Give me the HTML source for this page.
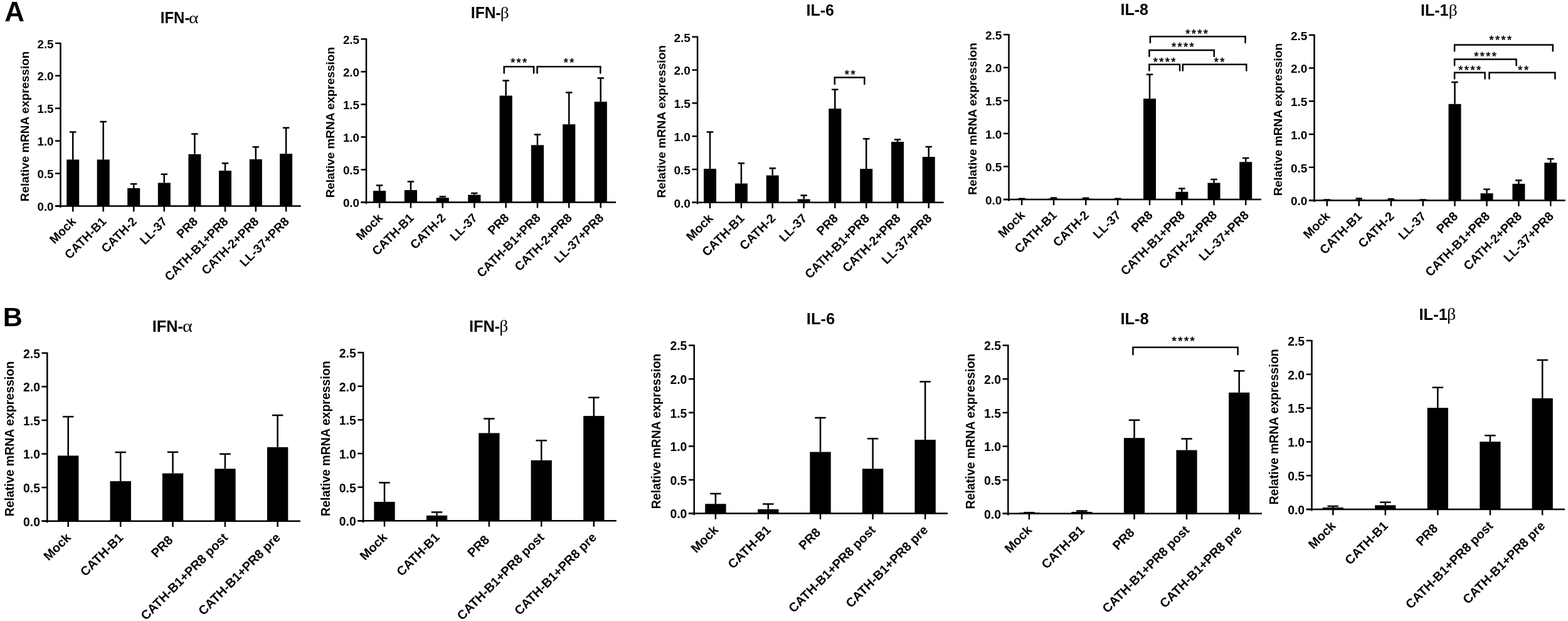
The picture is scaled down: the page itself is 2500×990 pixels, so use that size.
<!DOCTYPE html><html><head><meta charset="utf-8"><title>Figure</title><style>html,body{margin:0;padding:0;background:#fff;}svg{display:block;}</style></head><body>
<svg width="2500" height="990" viewBox="0 0 2500 990" font-family="&apos;Liberation Sans&apos;, Arial, Helvetica, sans-serif">
<rect width="2500" height="990" fill="#fff"/>
<text x="7.3" y="33.7" font-size="44" font-weight="bold">A</text>
<text x="4.7" y="519.6" font-size="43" font-weight="bold">B</text>
<g><g stroke="#000" stroke-width="2.5" fill="none" stroke-linecap="butt"><path d="M96.5 67.9V329.6"/><path d="M96.5 328.4V330" stroke-linecap="round"/><path d="M88 328.4H96.5"/><path d="M88 276.5H96.5"/><path d="M88 224.6H96.5"/><path d="M88 172.7H96.5"/><path d="M88 120.8H96.5"/><path d="M88 68.9H96.5"/><path d="M88 328.4H479.7"/><path d="M116.2 328.4V337.4"/><path d="M164.7 328.4V337.4"/><path d="M213.2 328.4V337.4"/><path d="M261.8 328.4V337.4"/><path d="M310.4 328.4V337.4"/><path d="M359 328.4V337.4"/><path d="M407.8 328.4V337.4"/><path d="M456.1 328.4V337.4"/></g><rect x="106.2" y="254.4" width="20" height="74" fill="#000"/><path d="M116.2 254.4V210.4M110.95 210.4H121.45" stroke="#000" stroke-width="2.5" fill="none"/><rect x="154.7" y="254.4" width="20" height="74" fill="#000"/><path d="M164.7 254.4V193.9M159.45 193.9H169.95" stroke="#000" stroke-width="2.5" fill="none"/><rect x="203.2" y="300" width="20" height="28.4" fill="#000"/><path d="M213.2 300V293.2M207.95 293.2H218.45" stroke="#000" stroke-width="2.5" fill="none"/><rect x="251.8" y="291.5" width="20" height="36.9" fill="#000"/><path d="M261.8 291.5V277.8M256.55 277.8H267.05" stroke="#000" stroke-width="2.5" fill="none"/><rect x="300.4" y="245.8" width="20" height="82.6" fill="#000"/><path d="M310.4 245.8V213.6M305.15 213.6H315.65" stroke="#000" stroke-width="2.5" fill="none"/><rect x="349" y="272.1" width="20" height="56.3" fill="#000"/><path d="M359 272.1V260.3M353.75 260.3H364.25" stroke="#000" stroke-width="2.5" fill="none"/><rect x="397.8" y="253.9" width="20" height="74.5" fill="#000"/><path d="M407.8 253.9V234.2M402.55 234.2H413.05" stroke="#000" stroke-width="2.5" fill="none"/><rect x="446.1" y="245.1" width="20" height="83.3" fill="#000"/><path d="M456.1 245.1V203.8M450.85 203.8H461.35" stroke="#000" stroke-width="2.5" fill="none"/><text x="85.5" y="336.05" font-size="18.7" font-weight="bold" text-anchor="end">0.0</text><text x="85.5" y="284.15" font-size="18.7" font-weight="bold" text-anchor="end">0.5</text><text x="85.5" y="232.25" font-size="18.7" font-weight="bold" text-anchor="end">1.0</text><text x="85.5" y="180.35" font-size="18.7" font-weight="bold" text-anchor="end">1.5</text><text x="85.5" y="128.45" font-size="18.7" font-weight="bold" text-anchor="end">2.0</text><text x="85.5" y="76.55" font-size="18.7" font-weight="bold" text-anchor="end">2.5</text><text transform="translate(45.9 201.45) rotate(-90)" font-size="18.89" font-weight="bold" text-anchor="middle">Relative mRNA expression</text><text transform="translate(122.2 354.4) rotate(-45)" font-size="19.54" font-weight="bold" text-anchor="end">Mock</text><text transform="translate(170.7 354.4) rotate(-45)" font-size="19.54" font-weight="bold" text-anchor="end">CATH-B1</text><text transform="translate(219.2 354.4) rotate(-45)" font-size="19.54" font-weight="bold" text-anchor="end">CATH-2</text><text transform="translate(267.8 354.4) rotate(-45)" font-size="19.54" font-weight="bold" text-anchor="end">LL-37</text><text transform="translate(316.4 354.4) rotate(-45)" font-size="19.54" font-weight="bold" text-anchor="end">PR8</text><text transform="translate(365 354.4) rotate(-45)" font-size="19.54" font-weight="bold" text-anchor="end">CATH-B1+PR8</text><text transform="translate(413.8 354.4) rotate(-45)" font-size="19.54" font-weight="bold" text-anchor="end">CATH-2+PR8</text><text transform="translate(462.1 354.4) rotate(-45)" font-size="19.54" font-weight="bold" text-anchor="end">LL-37+PR8</text><text transform="translate(255.8 37) scale(0.94 1)" font-size="25.5" font-weight="bold">IFN-</text><text transform="translate(301.04 37) scale(1.16 1)" font-size="25.5" font-family="&apos;Liberation Serif&apos;, &apos;Times New Roman&apos;, serif">α</text></g>
<g><g stroke="#000" stroke-width="2.5" fill="none" stroke-linecap="butt"><path d="M584 61.3V323.7"/><path d="M584 322.5V324.1" stroke-linecap="round"/><path d="M575.48 322.5H584"/><path d="M575.48 270.46H584"/><path d="M575.48 218.42H584"/><path d="M575.48 166.38H584"/><path d="M575.48 114.34H584"/><path d="M575.48 62.3H584"/><path d="M575.48 322.5H982.1"/><path d="M605.1 322.5V331.52"/><path d="M654.9 322.5V331.52"/><path d="M705.7 322.5V331.52"/><path d="M756.3 322.5V331.52"/><path d="M806.6 322.5V331.52"/><path d="M856.9 322.5V331.52"/><path d="M907.2 322.5V331.52"/><path d="M957.7 322.5V331.52"/></g><rect x="595" y="304.2" width="20.2" height="18.3" fill="#000"/><path d="M605.1 304.2V295.4M599.85 295.4H610.35" stroke="#000" stroke-width="2.5" fill="none"/><rect x="644.8" y="303" width="20.2" height="19.5" fill="#000"/><path d="M654.9 303V289.5M649.65 289.5H660.15" stroke="#000" stroke-width="2.5" fill="none"/><rect x="695.6" y="315.3" width="20.2" height="7.2" fill="#000"/><path d="M705.7 315.3V313.5M700.45 313.5H710.95" stroke="#000" stroke-width="2.5" fill="none"/><rect x="746.2" y="310.6" width="20.2" height="11.9" fill="#000"/><path d="M756.3 310.6V308M751.05 308H761.55" stroke="#000" stroke-width="2.5" fill="none"/><rect x="796.5" y="152.5" width="20.2" height="170" fill="#000"/><path d="M806.6 152.5V128.6M801.35 128.6H811.85" stroke="#000" stroke-width="2.5" fill="none"/><rect x="846.8" y="231.3" width="20.2" height="91.2" fill="#000"/><path d="M856.9 231.3V214.5M851.65 214.5H862.15" stroke="#000" stroke-width="2.5" fill="none"/><rect x="897.1" y="198.2" width="20.2" height="124.3" fill="#000"/><path d="M907.2 198.2V147.5M901.95 147.5H912.45" stroke="#000" stroke-width="2.5" fill="none"/><rect x="947.6" y="162.2" width="20.2" height="160.3" fill="#000"/><path d="M957.7 162.2V124.5M952.45 124.5H962.95" stroke="#000" stroke-width="2.5" fill="none"/><text x="572.97" y="330.17" font-size="18.75" font-weight="bold" text-anchor="end">0.0</text><text x="572.97" y="278.13" font-size="18.75" font-weight="bold" text-anchor="end">0.5</text><text x="572.97" y="226.09" font-size="18.75" font-weight="bold" text-anchor="end">1.0</text><text x="572.97" y="174.05" font-size="18.75" font-weight="bold" text-anchor="end">1.5</text><text x="572.97" y="122.01" font-size="18.75" font-weight="bold" text-anchor="end">2.0</text><text x="572.97" y="69.97" font-size="18.75" font-weight="bold" text-anchor="end">2.5</text><text transform="translate(533.26 195.21) rotate(-90)" font-size="18.94" font-weight="bold" text-anchor="middle">Relative mRNA expression</text><text transform="translate(611.12 348.57) rotate(-45)" font-size="19.59" font-weight="bold" text-anchor="end">Mock</text><text transform="translate(660.92 348.57) rotate(-45)" font-size="19.59" font-weight="bold" text-anchor="end">CATH-B1</text><text transform="translate(711.72 348.57) rotate(-45)" font-size="19.59" font-weight="bold" text-anchor="end">CATH-2</text><text transform="translate(762.32 348.57) rotate(-45)" font-size="19.59" font-weight="bold" text-anchor="end">LL-37</text><text transform="translate(812.62 348.57) rotate(-45)" font-size="19.59" font-weight="bold" text-anchor="end">PR8</text><text transform="translate(862.92 348.57) rotate(-45)" font-size="19.59" font-weight="bold" text-anchor="end">CATH-B1+PR8</text><text transform="translate(913.22 348.57) rotate(-45)" font-size="19.59" font-weight="bold" text-anchor="end">CATH-2+PR8</text><text transform="translate(963.72 348.57) rotate(-45)" font-size="19.59" font-weight="bold" text-anchor="end">LL-37+PR8</text><text transform="translate(750.86 29.2) scale(0.96 1)" font-size="25.57" font-weight="bold">IFN-</text><text transform="translate(797.78 29.2) scale(1.07 1)" font-size="25.57" font-family="&apos;Liberation Serif&apos;, &apos;Times New Roman&apos;, serif">β</text><path d="M803.7 116.4V106.2H851V116.4" stroke="#000" stroke-width="2.5" fill="none" stroke-linecap="round" stroke-linejoin="miter"/><text x="828.3" y="105.59" font-size="18.05" text-anchor="middle" letter-spacing="2.41" stroke="#000" stroke-width="0.55" style="font-weight:normal">***</text><path d="M856.5 116.4V106.2H957.3V116.4" stroke="#000" stroke-width="2.5" fill="none" stroke-linecap="round" stroke-linejoin="miter"/><text x="908.3" y="106.39" font-size="18.05" text-anchor="middle" letter-spacing="2.41" stroke="#000" stroke-width="0.55" style="font-weight:normal">**</text></g>
<g><g stroke="#000" stroke-width="2.5" fill="none" stroke-linecap="butt"><path d="M1112.1 57.8V324"/><path d="M1112.1 322.8V324.4" stroke-linecap="round"/><path d="M1103.45 322.8H1112.1"/><path d="M1103.45 270H1112.1"/><path d="M1103.45 217.2H1112.1"/><path d="M1103.45 164.4H1112.1"/><path d="M1103.45 111.6H1112.1"/><path d="M1103.45 58.8H1112.1"/><path d="M1103.45 322.8H1504.6"/><path d="M1132 322.8V331.96"/><path d="M1181.9 322.8V331.96"/><path d="M1231.7 322.8V331.96"/><path d="M1281.6 322.8V331.96"/><path d="M1331.3 322.8V331.96"/><path d="M1381.2 322.8V331.96"/><path d="M1431 322.8V331.96"/><path d="M1480.7 322.8V331.96"/></g><rect x="1122" y="269.1" width="20" height="53.7" fill="#000"/><path d="M1132 269.1V210.5M1126.75 210.5H1137.25" stroke="#000" stroke-width="2.5" fill="none"/><rect x="1171.9" y="292.5" width="20" height="30.3" fill="#000"/><path d="M1181.9 292.5V260.3M1176.65 260.3H1187.15" stroke="#000" stroke-width="2.5" fill="none"/><rect x="1221.7" y="279.6" width="20" height="43.2" fill="#000"/><path d="M1231.7 279.6V268.2M1226.45 268.2H1236.95" stroke="#000" stroke-width="2.5" fill="none"/><rect x="1271.6" y="317.5" width="20" height="5.3" fill="#000"/><path d="M1281.6 317.5V311.6M1276.35 311.6H1286.85" stroke="#000" stroke-width="2.5" fill="none"/><rect x="1321.3" y="173.2" width="20" height="149.6" fill="#000"/><path d="M1331.3 173.2V142.7M1326.05 142.7H1336.55" stroke="#000" stroke-width="2.5" fill="none"/><rect x="1371.2" y="269.2" width="20" height="53.6" fill="#000"/><path d="M1381.2 269.2V221.2M1375.95 221.2H1386.45" stroke="#000" stroke-width="2.5" fill="none"/><rect x="1421" y="226.1" width="20" height="96.7" fill="#000"/><path d="M1431 226.1V222.4M1425.75 222.4H1436.25" stroke="#000" stroke-width="2.5" fill="none"/><rect x="1470.7" y="250.1" width="20" height="72.7" fill="#000"/><path d="M1480.7 250.1V234M1475.45 234H1485.95" stroke="#000" stroke-width="2.5" fill="none"/><text x="1100.91" y="330.56" font-size="19.02" font-weight="bold" text-anchor="end">0.0</text><text x="1100.91" y="277.76" font-size="19.02" font-weight="bold" text-anchor="end">0.5</text><text x="1100.91" y="224.96" font-size="19.02" font-weight="bold" text-anchor="end">1.0</text><text x="1100.91" y="172.16" font-size="19.02" font-weight="bold" text-anchor="end">1.5</text><text x="1100.91" y="119.36" font-size="19.02" font-weight="bold" text-anchor="end">2.0</text><text x="1100.91" y="66.56" font-size="19.02" font-weight="bold" text-anchor="end">2.5</text><text transform="translate(1060.62 193.65) rotate(-90)" font-size="19.21" font-weight="bold" text-anchor="middle">Relative mRNA expression</text><text transform="translate(1138.1 349.25) rotate(-45)" font-size="19.88" font-weight="bold" text-anchor="end">Mock</text><text transform="translate(1188 349.25) rotate(-45)" font-size="19.88" font-weight="bold" text-anchor="end">CATH-B1</text><text transform="translate(1237.8 349.25) rotate(-45)" font-size="19.88" font-weight="bold" text-anchor="end">CATH-2</text><text transform="translate(1287.7 349.25) rotate(-45)" font-size="19.88" font-weight="bold" text-anchor="end">LL-37</text><text transform="translate(1337.4 349.25) rotate(-45)" font-size="19.88" font-weight="bold" text-anchor="end">PR8</text><text transform="translate(1387.3 349.25) rotate(-45)" font-size="19.88" font-weight="bold" text-anchor="end">CATH-B1+PR8</text><text transform="translate(1437.1 349.25) rotate(-45)" font-size="19.88" font-weight="bold" text-anchor="end">CATH-2+PR8</text><text transform="translate(1486.8 349.25) rotate(-45)" font-size="19.88" font-weight="bold" text-anchor="end">LL-37+PR8</text><text transform="translate(1285.53 25.2) scale(0.96 1)" font-size="25.94" font-weight="bold">IL-6</text><path d="M1330.8 133.9V123.5H1378.3V133.9" stroke="#000" stroke-width="2.5" fill="none" stroke-linecap="round" stroke-linejoin="miter"/><text x="1356.4" y="124.82" font-size="18.31" text-anchor="middle" letter-spacing="2.44" stroke="#000" stroke-width="0.55" style="font-weight:normal">**</text></g>
<g><g stroke="#000" stroke-width="2.5" fill="none" stroke-linecap="butt"><path d="M1608.5 54.2V319.2"/><path d="M1608.5 318V319.6" stroke-linecap="round"/><path d="M1599.89 318H1608.5"/><path d="M1599.89 265.44H1608.5"/><path d="M1599.89 212.88H1608.5"/><path d="M1599.89 160.32H1608.5"/><path d="M1599.89 107.76H1608.5"/><path d="M1599.89 55.2H1608.5"/><path d="M1599.89 318H2010.9"/><path d="M1629.1 318V327.11"/><path d="M1680 318V327.11"/><path d="M1731.2 318V327.11"/><path d="M1782.1 318V327.11"/><path d="M1833 318V327.11"/><path d="M1884.3 318V327.11"/><path d="M1935.5 318V327.11"/><path d="M1986.2 318V327.11"/></g><rect x="1619.1" y="316.8" width="20" height="1.2" fill="#000"/><path d="M1629.1 316.8V316.85M1623.85 316.85H1634.35" stroke="#000" stroke-width="2.5" fill="none"/><rect x="1670" y="316.6" width="20" height="1.4" fill="#000"/><path d="M1680 316.6V315.5M1674.75 315.5H1685.25" stroke="#000" stroke-width="2.5" fill="none"/><rect x="1721.2" y="316.7" width="20" height="1.3" fill="#000"/><path d="M1731.2 316.7V315.65M1725.95 315.65H1736.45" stroke="#000" stroke-width="2.5" fill="none"/><rect x="1772.1" y="316.9" width="20" height="1.1" fill="#000"/><path d="M1782.1 316.9V316.85M1776.85 316.85H1787.35" stroke="#000" stroke-width="2.5" fill="none"/><rect x="1823" y="157.3" width="20" height="160.7" fill="#000"/><path d="M1833 157.3V118.8M1827.75 118.8H1838.25" stroke="#000" stroke-width="2.5" fill="none"/><rect x="1874.3" y="305.8" width="20" height="12.2" fill="#000"/><path d="M1884.3 305.8V300.6M1879.05 300.6H1889.55" stroke="#000" stroke-width="2.5" fill="none"/><rect x="1925.5" y="291.5" width="20" height="26.5" fill="#000"/><path d="M1935.5 291.5V286M1930.25 286H1940.75" stroke="#000" stroke-width="2.5" fill="none"/><rect x="1976.2" y="258.2" width="20" height="59.8" fill="#000"/><path d="M1986.2 258.2V252.1M1980.95 252.1H1991.45" stroke="#000" stroke-width="2.5" fill="none"/><text x="1597.36" y="325.73" font-size="18.94" font-weight="bold" text-anchor="end">0.0</text><text x="1597.36" y="273.17" font-size="18.94" font-weight="bold" text-anchor="end">0.5</text><text x="1597.36" y="220.61" font-size="18.94" font-weight="bold" text-anchor="end">1.0</text><text x="1597.36" y="168.05" font-size="18.94" font-weight="bold" text-anchor="end">1.5</text><text x="1597.36" y="115.49" font-size="18.94" font-weight="bold" text-anchor="end">2.0</text><text x="1597.36" y="62.93" font-size="18.94" font-weight="bold" text-anchor="end">2.5</text><text transform="translate(1557.26 189.44) rotate(-90)" font-size="19.13" font-weight="bold" text-anchor="middle">Relative mRNA expression</text><text transform="translate(1635.18 344.33) rotate(-45)" font-size="19.79" font-weight="bold" text-anchor="end">Mock</text><text transform="translate(1686.08 344.33) rotate(-45)" font-size="19.79" font-weight="bold" text-anchor="end">CATH-B1</text><text transform="translate(1737.28 344.33) rotate(-45)" font-size="19.79" font-weight="bold" text-anchor="end">CATH-2</text><text transform="translate(1788.18 344.33) rotate(-45)" font-size="19.79" font-weight="bold" text-anchor="end">LL-37</text><text transform="translate(1839.08 344.33) rotate(-45)" font-size="19.79" font-weight="bold" text-anchor="end">PR8</text><text transform="translate(1890.38 344.33) rotate(-45)" font-size="19.79" font-weight="bold" text-anchor="end">CATH-B1+PR8</text><text transform="translate(1941.58 344.33) rotate(-45)" font-size="19.79" font-weight="bold" text-anchor="end">CATH-2+PR8</text><text transform="translate(1992.28 344.33) rotate(-45)" font-size="19.79" font-weight="bold" text-anchor="end">LL-37+PR8</text><text transform="translate(1786.43 23.9) scale(0.97 1)" font-size="25.82" font-weight="bold">IL-8</text><path d="M1833.9 67.9V58.3H1985.5V67.9" stroke="#000" stroke-width="2.5" fill="none" stroke-linecap="round" stroke-linejoin="miter"/><text x="1909.3" y="59.58" font-size="18.23" text-anchor="middle" letter-spacing="2.43" stroke="#000" stroke-width="0.55" style="font-weight:normal">****</text><path d="M1832.4 89.7V80H1935.8V89.7" stroke="#000" stroke-width="2.5" fill="none" stroke-linecap="round" stroke-linejoin="miter"/><text x="1887.1" y="81.08" font-size="18.23" text-anchor="middle" letter-spacing="2.43" stroke="#000" stroke-width="0.55" style="font-weight:normal">****</text><path d="M1832.4 112.4V102.7H1881V112.4" stroke="#000" stroke-width="2.5" fill="none" stroke-linecap="round" stroke-linejoin="miter"/><text x="1857.8" y="105.28" font-size="18.23" text-anchor="middle" letter-spacing="2.43" stroke="#000" stroke-width="0.55" style="font-weight:normal">****</text><path d="M1885.8 112.4V102.7H1987.3V112.4" stroke="#000" stroke-width="2.5" fill="none" stroke-linecap="round" stroke-linejoin="miter"/><text x="1945.3" y="105.28" font-size="18.23" text-anchor="middle" letter-spacing="2.43" stroke="#000" stroke-width="0.55" style="font-weight:normal">**</text></g>
<g><g stroke="#000" stroke-width="2.5" fill="none" stroke-linecap="butt"><path d="M2095.5 54.8V320.7"/><path d="M2095.5 319.5V321.1" stroke-linecap="round"/><path d="M2086.86 319.5H2095.5"/><path d="M2086.86 266.76H2095.5"/><path d="M2086.86 214.02H2095.5"/><path d="M2086.86 161.28H2095.5"/><path d="M2086.86 108.54H2095.5"/><path d="M2086.86 55.8H2095.5"/><path d="M2086.86 319.5H2495.8"/><path d="M2115.8 319.5V328.65"/><path d="M2166.7 319.5V328.65"/><path d="M2217.9 319.5V328.65"/><path d="M2268.8 319.5V328.65"/><path d="M2319.5 319.5V328.65"/><path d="M2370.5 319.5V328.65"/><path d="M2421.4 319.5V328.65"/><path d="M2472.3 319.5V328.65"/></g><rect x="2105.8" y="318.3" width="20" height="1.2" fill="#000"/><path d="M2115.8 318.3V318.45M2110.55 318.45H2121.05" stroke="#000" stroke-width="2.5" fill="none"/><rect x="2156.7" y="318.1" width="20" height="1.4" fill="#000"/><path d="M2166.7 318.1V316.45M2161.45 316.45H2171.95" stroke="#000" stroke-width="2.5" fill="none"/><rect x="2207.9" y="318.2" width="20" height="1.3" fill="#000"/><path d="M2217.9 318.2V317.25M2212.65 317.25H2223.15" stroke="#000" stroke-width="2.5" fill="none"/><rect x="2258.8" y="318.4" width="20" height="1.1" fill="#000"/><path d="M2268.8 318.4V318.45M2263.55 318.45H2274.05" stroke="#000" stroke-width="2.5" fill="none"/><rect x="2309.5" y="165.8" width="20" height="153.7" fill="#000"/><path d="M2319.5 165.8V130.9M2314.25 130.9H2324.75" stroke="#000" stroke-width="2.5" fill="none"/><rect x="2360.5" y="308.2" width="20" height="11.3" fill="#000"/><path d="M2370.5 308.2V301.8M2365.25 301.8H2375.75" stroke="#000" stroke-width="2.5" fill="none"/><rect x="2411.4" y="293" width="20" height="26.5" fill="#000"/><path d="M2421.4 293V287.6M2416.15 287.6H2426.65" stroke="#000" stroke-width="2.5" fill="none"/><rect x="2462.3" y="259.4" width="20" height="60.1" fill="#000"/><path d="M2472.3 259.4V253.3M2467.05 253.3H2477.55" stroke="#000" stroke-width="2.5" fill="none"/><text x="2084.32" y="327.26" font-size="19" font-weight="bold" text-anchor="end">0.0</text><text x="2084.32" y="274.52" font-size="19" font-weight="bold" text-anchor="end">0.5</text><text x="2084.32" y="221.78" font-size="19" font-weight="bold" text-anchor="end">1.0</text><text x="2084.32" y="169.04" font-size="19" font-weight="bold" text-anchor="end">1.5</text><text x="2084.32" y="116.3" font-size="19" font-weight="bold" text-anchor="end">2.0</text><text x="2084.32" y="63.56" font-size="19" font-weight="bold" text-anchor="end">2.5</text><text transform="translate(2044.08 190.5) rotate(-90)" font-size="19.19" font-weight="bold" text-anchor="middle">Relative mRNA expression</text><text transform="translate(2121.9 345.92) rotate(-45)" font-size="19.86" font-weight="bold" text-anchor="end">Mock</text><text transform="translate(2172.8 345.92) rotate(-45)" font-size="19.86" font-weight="bold" text-anchor="end">CATH-B1</text><text transform="translate(2224 345.92) rotate(-45)" font-size="19.86" font-weight="bold" text-anchor="end">CATH-2</text><text transform="translate(2274.9 345.92) rotate(-45)" font-size="19.86" font-weight="bold" text-anchor="end">LL-37</text><text transform="translate(2325.6 345.92) rotate(-45)" font-size="19.86" font-weight="bold" text-anchor="end">PR8</text><text transform="translate(2376.6 345.92) rotate(-45)" font-size="19.86" font-weight="bold" text-anchor="end">CATH-B1+PR8</text><text transform="translate(2427.5 345.92) rotate(-45)" font-size="19.86" font-weight="bold" text-anchor="end">CATH-2+PR8</text><text transform="translate(2478.4 345.92) rotate(-45)" font-size="19.86" font-weight="bold" text-anchor="end">LL-37+PR8</text><text transform="translate(2264.92 24.9) scale(0.97 1)" font-size="25.91" font-weight="bold">IL-1</text><text transform="translate(2309.78 24.9) scale(1.06 1)" font-size="25.91" font-family="&apos;Liberation Serif&apos;, &apos;Times New Roman&apos;, serif">β</text><path d="M2319.1 81.2V71.5H2475.8V81.2" stroke="#000" stroke-width="2.5" fill="none" stroke-linecap="round" stroke-linejoin="miter"/><text x="2393.5" y="69.91" font-size="18.29" text-anchor="middle" letter-spacing="2.44" stroke="#000" stroke-width="0.55" style="font-weight:normal">****</text><path d="M2319.1 104.2V94.5H2417.6V104.2" stroke="#000" stroke-width="2.5" fill="none" stroke-linecap="round" stroke-linejoin="miter"/><text x="2369.3" y="95.71" font-size="18.29" text-anchor="middle" letter-spacing="2.44" stroke="#000" stroke-width="0.55" style="font-weight:normal">****</text><path d="M2319.1 125.5V115.8H2367.6V125.5" stroke="#000" stroke-width="2.5" fill="none" stroke-linecap="round" stroke-linejoin="miter"/><text x="2344.4" y="117.71" font-size="18.29" text-anchor="middle" letter-spacing="2.44" stroke="#000" stroke-width="0.55" style="font-weight:normal">****</text><path d="M2374.5 125.5V115.8H2479.4V125.5" stroke="#000" stroke-width="2.5" fill="none" stroke-linecap="round" stroke-linejoin="miter"/><text x="2429.9" y="117.71" font-size="18.29" text-anchor="middle" letter-spacing="2.44" stroke="#000" stroke-width="0.55" style="font-weight:normal">**</text></g>
<g><g stroke="#000" stroke-width="2.5" fill="none" stroke-linecap="butt"><path d="M75.3 561.8V831.9"/><path d="M75.3 830.7V832.3" stroke-linecap="round"/><path d="M66.52 830.7H75.3"/><path d="M66.52 777.12H75.3"/><path d="M66.52 723.54H75.3"/><path d="M66.52 669.96H75.3"/><path d="M66.52 616.38H75.3"/><path d="M66.52 562.8H75.3"/><path d="M66.52 830.7H478.9"/><path d="M108.7 830.7V839.99"/><path d="M192.2 830.7V839.99"/><path d="M275.5 830.7V839.99"/><path d="M358.9 830.7V839.99"/><path d="M442.6 830.7V839.99"/></g><rect x="92" y="726.4" width="33.4" height="104.3" fill="#000"/><path d="M108.7 726.4V664.2M99.95 664.2H117.45" stroke="#000" stroke-width="2.5" fill="none"/><rect x="175.5" y="767.1" width="33.4" height="63.6" fill="#000"/><path d="M192.2 767.1V720.9M183.45 720.9H200.95" stroke="#000" stroke-width="2.5" fill="none"/><rect x="258.8" y="754.6" width="33.4" height="76.1" fill="#000"/><path d="M275.5 754.6V720.7M266.75 720.7H284.25" stroke="#000" stroke-width="2.5" fill="none"/><rect x="342.2" y="747.3" width="33.4" height="83.4" fill="#000"/><path d="M358.9 747.3V723.8M350.15 723.8H367.65" stroke="#000" stroke-width="2.5" fill="none"/><rect x="425.9" y="712.9" width="33.4" height="117.8" fill="#000"/><path d="M442.6 712.9V662.1M433.85 662.1H451.35" stroke="#000" stroke-width="2.5" fill="none"/><text x="63.94" y="838.56" font-size="19.31" font-weight="bold" text-anchor="end">0.0</text><text x="63.94" y="784.98" font-size="19.31" font-weight="bold" text-anchor="end">0.5</text><text x="63.94" y="731.4" font-size="19.31" font-weight="bold" text-anchor="end">1.0</text><text x="63.94" y="677.82" font-size="19.31" font-weight="bold" text-anchor="end">1.5</text><text x="63.94" y="624.24" font-size="19.31" font-weight="bold" text-anchor="end">2.0</text><text x="63.94" y="570.66" font-size="19.31" font-weight="bold" text-anchor="end">2.5</text><text transform="translate(21.76 699.64) rotate(-90)" font-size="19.5" font-weight="bold" text-anchor="middle">Relative mRNA expression</text><text transform="translate(114.19 858.24) rotate(-45)" font-size="20.17" font-weight="bold" text-anchor="end">Mock</text><text transform="translate(197.69 858.24) rotate(-45)" font-size="20.17" font-weight="bold" text-anchor="end">CATH-B1</text><text transform="translate(280.99 858.24) rotate(-45)" font-size="20.17" font-weight="bold" text-anchor="end">PR8&#160;</text><text transform="translate(364.39 858.24) rotate(-45)" font-size="20.17" font-weight="bold" text-anchor="end">CATH-B1+PR8 post</text><text transform="translate(448.09 858.24) rotate(-45)" font-size="20.17" font-weight="bold" text-anchor="end">CATH-B1+PR8 pre</text><text transform="translate(242.72 528.8) scale(0.96 1)" font-size="26.33" font-weight="bold">IFN-</text><text transform="translate(291.11 528.8) scale(1.15 1)" font-size="26.33" font-family="&apos;Liberation Serif&apos;, &apos;Times New Roman&apos;, serif">α</text></g>
<g><g stroke="#000" stroke-width="2.5" fill="none" stroke-linecap="butt"><path d="M579.1 561.1V831.5"/><path d="M579.1 830.3V831.9" stroke-linecap="round"/><path d="M570.32 830.3H579.1"/><path d="M570.32 776.66H579.1"/><path d="M570.32 723.02H579.1"/><path d="M570.32 669.38H579.1"/><path d="M570.32 615.74H579.1"/><path d="M570.32 562.1H579.1"/><path d="M570.32 830.3H982.8"/><path d="M613 830.3V839.6"/><path d="M696.5 830.3V839.6"/><path d="M779.8 830.3V839.6"/><path d="M863.2 830.3V839.6"/><path d="M946.8 830.3V839.6"/></g><rect x="596.35" y="800" width="33.3" height="30.3" fill="#000"/><path d="M613 800V769.4M604.25 769.4H621.75" stroke="#000" stroke-width="2.5" fill="none"/><rect x="679.85" y="821.8" width="33.3" height="8.5" fill="#000"/><path d="M696.5 821.8V816.4M687.75 816.4H705.25" stroke="#000" stroke-width="2.5" fill="none"/><rect x="763.15" y="690.4" width="33.3" height="139.9" fill="#000"/><path d="M779.8 690.4V667.6M771.05 667.6H788.55" stroke="#000" stroke-width="2.5" fill="none"/><rect x="846.55" y="733.8" width="33.3" height="96.5" fill="#000"/><path d="M863.2 733.8V702.2M854.45 702.2H871.95" stroke="#000" stroke-width="2.5" fill="none"/><rect x="930.15" y="663.1" width="33.3" height="167.2" fill="#000"/><path d="M946.8 663.1V633.8M938.05 633.8H955.55" stroke="#000" stroke-width="2.5" fill="none"/><text x="567.73" y="838.17" font-size="19.33" font-weight="bold" text-anchor="end">0.0</text><text x="567.73" y="784.53" font-size="19.33" font-weight="bold" text-anchor="end">0.5</text><text x="567.73" y="730.89" font-size="19.33" font-weight="bold" text-anchor="end">1.0</text><text x="567.73" y="677.25" font-size="19.33" font-weight="bold" text-anchor="end">1.5</text><text x="567.73" y="623.61" font-size="19.33" font-weight="bold" text-anchor="end">2.0</text><text x="567.73" y="569.97" font-size="19.33" font-weight="bold" text-anchor="end">2.5</text><text transform="translate(525.5 699.09) rotate(-90)" font-size="19.52" font-weight="bold" text-anchor="middle">Relative mRNA expression</text><text transform="translate(618.5 857.87) rotate(-45)" font-size="20.2" font-weight="bold" text-anchor="end">Mock</text><text transform="translate(702 857.87) rotate(-45)" font-size="20.2" font-weight="bold" text-anchor="end">CATH-B1</text><text transform="translate(785.3 857.87) rotate(-45)" font-size="20.2" font-weight="bold" text-anchor="end">PR8&#160;</text><text transform="translate(868.7 857.87) rotate(-45)" font-size="20.2" font-weight="bold" text-anchor="end">CATH-B1+PR8 post</text><text transform="translate(952.3 857.87) rotate(-45)" font-size="20.2" font-weight="bold" text-anchor="end">CATH-B1+PR8 pre</text><text transform="translate(748.01 528.8) scale(0.96 1)" font-size="26.35" font-weight="bold">IFN-</text><text transform="translate(796.28 528.8) scale(1.04 1)" font-size="26.35" font-family="&apos;Liberation Serif&apos;, &apos;Times New Roman&apos;, serif">β</text></g>
<g><g stroke="#000" stroke-width="2.5" fill="none" stroke-linecap="butt"><path d="M1106.7 549.6V819.8"/><path d="M1106.7 818.6V820.2" stroke-linecap="round"/><path d="M1097.92 818.6H1106.7"/><path d="M1097.92 765H1106.7"/><path d="M1097.92 711.4H1106.7"/><path d="M1097.92 657.8H1106.7"/><path d="M1097.92 604.2H1106.7"/><path d="M1097.92 550.6H1106.7"/><path d="M1097.92 818.6H1511.1"/><path d="M1140.9 818.6V827.89"/><path d="M1224.8 818.6V827.89"/><path d="M1308 818.6V827.89"/><path d="M1391.6 818.6V827.89"/><path d="M1475.1 818.6V827.89"/></g><rect x="1124.2" y="803.3" width="33.4" height="15.3" fill="#000"/><path d="M1140.9 803.3V787M1132.15 787H1149.65" stroke="#000" stroke-width="2.5" fill="none"/><rect x="1208.1" y="811.8" width="33.4" height="6.8" fill="#000"/><path d="M1224.8 811.8V803.6M1216.05 803.6H1233.55" stroke="#000" stroke-width="2.5" fill="none"/><rect x="1291.3" y="720.5" width="33.4" height="98.1" fill="#000"/><path d="M1308 720.5V666.1M1299.25 666.1H1316.75" stroke="#000" stroke-width="2.5" fill="none"/><rect x="1374.9" y="747.3" width="33.4" height="71.3" fill="#000"/><path d="M1391.6 747.3V699.2M1382.85 699.2H1400.35" stroke="#000" stroke-width="2.5" fill="none"/><rect x="1458.4" y="701.1" width="33.4" height="117.5" fill="#000"/><path d="M1475.1 701.1V608.4M1466.35 608.4H1483.85" stroke="#000" stroke-width="2.5" fill="none"/><text x="1095.34" y="826.46" font-size="19.31" font-weight="bold" text-anchor="end">0.0</text><text x="1095.34" y="772.86" font-size="19.31" font-weight="bold" text-anchor="end">0.5</text><text x="1095.34" y="719.26" font-size="19.31" font-weight="bold" text-anchor="end">1.0</text><text x="1095.34" y="665.66" font-size="19.31" font-weight="bold" text-anchor="end">1.5</text><text x="1095.34" y="612.06" font-size="19.31" font-weight="bold" text-anchor="end">2.0</text><text x="1095.34" y="558.46" font-size="19.31" font-weight="bold" text-anchor="end">2.5</text><text transform="translate(1053.14 687.49) rotate(-90)" font-size="19.51" font-weight="bold" text-anchor="middle">Relative mRNA expression</text><text transform="translate(1146.4 846.15) rotate(-45)" font-size="20.18" font-weight="bold" text-anchor="end">Mock</text><text transform="translate(1230.3 846.15) rotate(-45)" font-size="20.18" font-weight="bold" text-anchor="end">CATH-B1</text><text transform="translate(1313.5 846.15) rotate(-45)" font-size="20.18" font-weight="bold" text-anchor="end">PR8&#160;</text><text transform="translate(1397.1 846.15) rotate(-45)" font-size="20.18" font-weight="bold" text-anchor="end">CATH-B1+PR8 post</text><text transform="translate(1480.6 846.15) rotate(-45)" font-size="20.18" font-weight="bold" text-anchor="end">CATH-B1+PR8 pre</text><text transform="translate(1285.8 516.5) scale(0.97 1)" font-size="26.34" font-weight="bold">IL-6</text></g>
<g><g stroke="#000" stroke-width="2.5" fill="none" stroke-linecap="butt"><path d="M1607.3 549.6V820"/><path d="M1607.3 818.8V820.4" stroke-linecap="round"/><path d="M1598.52 818.8H1607.3"/><path d="M1598.52 765.16H1607.3"/><path d="M1598.52 711.52H1607.3"/><path d="M1598.52 657.88H1607.3"/><path d="M1598.52 604.24H1607.3"/><path d="M1598.52 550.6H1607.3"/><path d="M1598.52 818.8H2011.9"/><path d="M1640.9 818.8V828.1"/><path d="M1724.8 818.8V828.1"/><path d="M1808.5 818.8V828.1"/><path d="M1892 818.8V828.1"/><path d="M1975.7 818.8V828.1"/></g><rect x="1624.3" y="817.2" width="33.2" height="1.6" fill="#000"/><path d="M1640.9 817.2V817.3M1632.15 817.3H1649.65" stroke="#000" stroke-width="2.5" fill="none"/><rect x="1708.2" y="816" width="33.2" height="2.8" fill="#000"/><path d="M1724.8 816V814.4M1716.05 814.4H1733.55" stroke="#000" stroke-width="2.5" fill="none"/><rect x="1791.9" y="698.2" width="33.2" height="120.6" fill="#000"/><path d="M1808.5 698.2V669.7M1799.75 669.7H1817.25" stroke="#000" stroke-width="2.5" fill="none"/><rect x="1875.4" y="717.6" width="33.2" height="101.2" fill="#000"/><path d="M1892 717.6V699.5M1883.25 699.5H1900.75" stroke="#000" stroke-width="2.5" fill="none"/><rect x="1959.1" y="625.8" width="33.2" height="193" fill="#000"/><path d="M1975.7 625.8V591.2M1966.95 591.2H1984.45" stroke="#000" stroke-width="2.5" fill="none"/><text x="1595.93" y="826.67" font-size="19.33" font-weight="bold" text-anchor="end">0.0</text><text x="1595.93" y="773.03" font-size="19.33" font-weight="bold" text-anchor="end">0.5</text><text x="1595.93" y="719.39" font-size="19.33" font-weight="bold" text-anchor="end">1.0</text><text x="1595.93" y="665.75" font-size="19.33" font-weight="bold" text-anchor="end">1.5</text><text x="1595.93" y="612.11" font-size="19.33" font-weight="bold" text-anchor="end">2.0</text><text x="1595.93" y="558.47" font-size="19.33" font-weight="bold" text-anchor="end">2.5</text><text transform="translate(1553.7 687.59) rotate(-90)" font-size="19.52" font-weight="bold" text-anchor="middle">Relative mRNA expression</text><text transform="translate(1646.4 846.37) rotate(-45)" font-size="20.2" font-weight="bold" text-anchor="end">Mock</text><text transform="translate(1730.3 846.37) rotate(-45)" font-size="20.2" font-weight="bold" text-anchor="end">CATH-B1</text><text transform="translate(1814 846.37) rotate(-45)" font-size="20.2" font-weight="bold" text-anchor="end">PR8&#160;</text><text transform="translate(1897.5 846.37) rotate(-45)" font-size="20.2" font-weight="bold" text-anchor="end">CATH-B1+PR8 post</text><text transform="translate(1981.2 846.37) rotate(-45)" font-size="20.2" font-weight="bold" text-anchor="end">CATH-B1+PR8 pre</text><text transform="translate(1786.4 516.7) scale(0.97 1)" font-size="26.35" font-weight="bold">IL-8</text><path d="M1806.4 565.3V553.8H1973.6V565.3" stroke="#000" stroke-width="2.5" fill="none" stroke-linecap="round" stroke-linejoin="miter"/><text x="1887.9" y="549.67" font-size="18.6" text-anchor="middle" letter-spacing="2.48" stroke="#000" stroke-width="0.55" style="font-weight:normal">****</text></g>
<g><g stroke="#000" stroke-width="2.5" fill="none" stroke-linecap="butt"><path d="M2091.5 542V813.2"/><path d="M2091.5 812V813.6" stroke-linecap="round"/><path d="M2082.69 812H2091.5"/><path d="M2082.69 758.2H2091.5"/><path d="M2082.69 704.4H2091.5"/><path d="M2082.69 650.6H2091.5"/><path d="M2082.69 596.8H2091.5"/><path d="M2082.69 543H2091.5"/><path d="M2082.69 812H2495"/><path d="M2125.3 812V821.33"/><path d="M2208.8 812V821.33"/><path d="M2292.3 812V821.33"/><path d="M2375.9 812V821.33"/><path d="M2459.2 812V821.33"/></g><rect x="2108.7" y="809.1" width="33.2" height="2.9" fill="#000"/><path d="M2125.3 809.1V807M2116.55 807H2134.05" stroke="#000" stroke-width="2.5" fill="none"/><rect x="2192.2" y="805.4" width="33.2" height="6.6" fill="#000"/><path d="M2208.8 805.4V800.7M2200.05 800.7H2217.55" stroke="#000" stroke-width="2.5" fill="none"/><rect x="2275.7" y="650.2" width="33.2" height="161.8" fill="#000"/><path d="M2292.3 650.2V617.7M2283.55 617.7H2301.05" stroke="#000" stroke-width="2.5" fill="none"/><rect x="2359.3" y="704.1" width="33.2" height="107.9" fill="#000"/><path d="M2375.9 704.1V694.2M2367.15 694.2H2384.65" stroke="#000" stroke-width="2.5" fill="none"/><rect x="2442.6" y="635" width="33.2" height="177" fill="#000"/><path d="M2459.2 635V574M2450.45 574H2467.95" stroke="#000" stroke-width="2.5" fill="none"/><text x="2080.1" y="819.89" font-size="19.38" font-weight="bold" text-anchor="end">0.0</text><text x="2080.1" y="766.09" font-size="19.38" font-weight="bold" text-anchor="end">0.5</text><text x="2080.1" y="712.29" font-size="19.38" font-weight="bold" text-anchor="end">1.0</text><text x="2080.1" y="658.49" font-size="19.38" font-weight="bold" text-anchor="end">1.5</text><text x="2080.1" y="604.69" font-size="19.38" font-weight="bold" text-anchor="end">2.0</text><text x="2080.1" y="550.89" font-size="19.38" font-weight="bold" text-anchor="end">2.5</text><text transform="translate(2037.75 680.4) rotate(-90)" font-size="19.58" font-weight="bold" text-anchor="middle">Relative mRNA expression</text><text transform="translate(2130.82 839.65) rotate(-45)" font-size="20.26" font-weight="bold" text-anchor="end">Mock</text><text transform="translate(2214.32 839.65) rotate(-45)" font-size="20.26" font-weight="bold" text-anchor="end">CATH-B1</text><text transform="translate(2297.82 839.65) rotate(-45)" font-size="20.26" font-weight="bold" text-anchor="end">PR8&#160;</text><text transform="translate(2381.42 839.65) rotate(-45)" font-size="20.26" font-weight="bold" text-anchor="end">CATH-B1+PR8 post</text><text transform="translate(2464.72 839.65) rotate(-45)" font-size="20.26" font-weight="bold" text-anchor="end">CATH-B1+PR8 pre</text><text transform="translate(2262.39 510.1) scale(0.97 1)" font-size="26.43" font-weight="bold">IL-1</text><text transform="translate(2307.04 510.1) scale(1.06 1)" font-size="26.43" font-family="&apos;Liberation Serif&apos;, &apos;Times New Roman&apos;, serif">β</text></g>
</svg></body></html>
